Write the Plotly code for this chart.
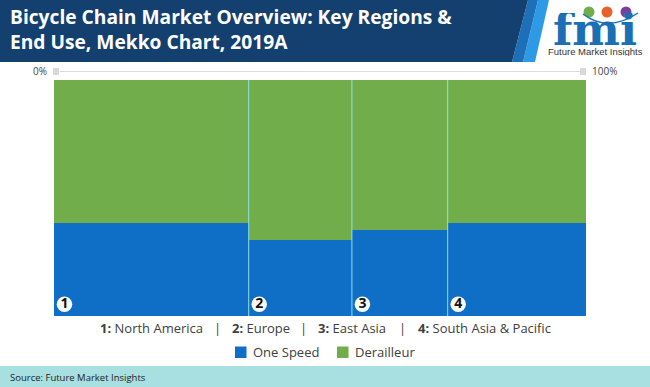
import plotly.graph_objects as go

regions = ["North America", "Europe", "East Asia", "South Asia & Pacific"]
region_ids = ["1", "2", "3", "4"]
region_share = [36.6, 19.4, 18.0, 26.0]
one_speed = [39.4, 32.0, 36.4, 39.6]
derailleur = [60.6, 68.0, 63.6, 60.4]
series_names = ["One Speed", "Derailleur"]
series_colors = ["#0f6fc6", "#72ad4b"]
title_text = "Bicycle Chain Market Overview: Key Regions &<br>End Use, Mekko Chart, 2019A"
source_text = "Source: Future Market Insights"

W, H = 650, 387
PX0, PX1, PY0, PY1 = 54, 586, 80, 316
FONT = "Open Sans"


def px(x):
    return x / W


def py(y):
    return 1 - y / H


lefts = [sum(region_share[:i]) for i in range(len(region_share))]

fig = go.Figure()
for name, vals, col in zip(series_names, [one_speed, derailleur], series_colors):
    fig.add_bar(name=name, x=lefts, y=vals, width=region_share, offset=0,
                marker=dict(color=col, line_width=0), hoverinfo="skip", showlegend=False)
fig.add_scatter(x=[l + 10.5 * 100 / (PX1 - PX0) for l in lefts], y=[5.0] * 4, mode="markers+text",
                text=[f"<b>{r}</b>" for r in region_ids], textposition="middle center",
                textfont=dict(family=FONT, size=14, color="#111"),
                marker=dict(color="white", size=15.5, line_width=0),
                showlegend=False, hoverinfo="skip")

shapes = []


def rect(x0, y0, x1, y1, color, layer="below"):
    shapes.append(dict(type="rect", xref="paper", yref="paper", x0=px(x0), x1=px(x1),
                       y0=py(y0), y1=py(y1), fillcolor=color, line_width=0, layer=layer))


def poly(pts, color, layer="below"):
    path = "M" + " L".join(f"{px(a):.5f},{py(b):.5f}" for a, b in pts) + " Z"
    shapes.append(dict(type="path", xref="paper", yref="paper", path=path,
                       fillcolor=color, line_width=0, layer=layer))


def circle(cx, cy, r, color):
    shapes.append(dict(type="circle", xref="paper", yref="paper", x0=px(cx - r), x1=px(cx + r),
                       y0=py(cy + r), y1=py(cy - r), fillcolor=color, line_width=0))


poly([(549, 0), (535, 62), (523, 62), (538, 0)], "#2e9ae6")
poly([(538, 0), (523, 62), (512, 62), (528, 0)], "#1d6fb8")
poly([(0, 0), (528, 0), (512, 62), (0, 62)], "#14406f")
rect(0, 366, 650, 387, "#a8e0e1")

# top scale
shapes.append(dict(type="line", xref="paper", yref="paper", x0=px(60), x1=px(580), y0=py(71.5), y1=py(71.5),
                   line=dict(color="#dcdcdc", width=1)))
rect(53, 68, 59, 75, "#d9d9d9")
rect(580, 68, 586, 75, "#d9d9d9")

# separators between the columns
for l in lefts[1:]:
    shapes.append(dict(type="line", xref="x", yref="y", x0=l, x1=l, y0=0, y1=100,
                       line=dict(color="#8fe3e3", width=1), layer="above"))

# logo dots and swoosh
circle(589, 12, 5.5, "#72ad4b")
circle(607, 12, 5.5, "#e8622c")
circle(626, 12, 5.5, "#7b3f98")
shapes.append(dict(type="path", xref="paper", yref="paper",
                   path=f"M{px(583):.5f},{py(14):.5f} Q{px(608):.5f},{py(33):.5f} {px(638):.5f},{py(13):.5f}",
                   line=dict(color="#1a6fb5", width=1.5)))

ann = [
    dict(x=px(10), y=py(29.5), text=f"<b>{title_text}</b>", xanchor="left", yanchor="middle", align="left",
         font=dict(family=FONT, size=19.2, color="white")),
    dict(x=px(47), y=py(71), text="0%", xanchor="right", yanchor="middle", font=dict(family=FONT, size=10, color="#444")),
    dict(x=px(592), y=py(71), text="100%", xanchor="left", yanchor="middle", font=dict(family=FONT, size=10, color="#444")),
    dict(x=px(10), y=py(377), text=source_text, xanchor="left", yanchor="middle", font=dict(family=FONT, size=9.5, color="#222")),
    dict(x=px(595), y=py(29), text="<b>fmi</b>", xanchor="center", yanchor="middle", height=33,
         font=dict(family="DejaVu Serif", size=45, color="#1a6fb5")),
    dict(x=px(595), y=py(51), text="Future Market Insights", xanchor="center", yanchor="middle", height=9,
         font=dict(family="Liberation Sans", size=9.5, color="#333")),
]
label_x = [100, 232, 318, 417.5]
sep_x = [217, 303, 402]
for rid, reg, lx in zip(region_ids, regions, label_x):
    ann.append(dict(x=px(lx), y=py(328), text=f"<b>{rid}:</b> {reg}", xanchor="left", yanchor="middle",
                    font=dict(family=FONT, size=13, color="#404040")))
for sx in sep_x:
    ann.append(dict(x=px(sx), y=py(328), text="|", xanchor="center", yanchor="middle",
                    font=dict(family=FONT, size=13, color="#404040")))
# legend row
swatch_x = [235, 337]
for name, col, sx in zip(series_names, series_colors, swatch_x):
    rect(sx, 346.5, sx + 11.5, 358, col)
    ann.append(dict(x=px(sx + 18), y=py(352), text=name, xanchor="left", yanchor="middle",
                    font=dict(family=FONT, size=13, color="#404040")))
for a in ann:
    a.update(xref="paper", yref="paper", showarrow=False, borderwidth=0, borderpad=0)

fig.update_layout(
    width=W, height=H, margin=dict(l=0, r=0, t=0, b=0), autosize=False,
    paper_bgcolor="white", plot_bgcolor="white", barmode="stack", bargap=0,
    xaxis=dict(domain=[px(PX0), px(PX1)], range=[0, 100], visible=False, fixedrange=True),
    yaxis=dict(domain=[py(PY1), py(PY0)], range=[0, 100], visible=False, fixedrange=True),
    shapes=shapes, annotations=ann, showlegend=False,
)
fig.write_html("out.html", config=dict(displayModeBar=False),
               post_script="document.body.style.margin='0';document.documentElement.style.overflow='hidden';")
